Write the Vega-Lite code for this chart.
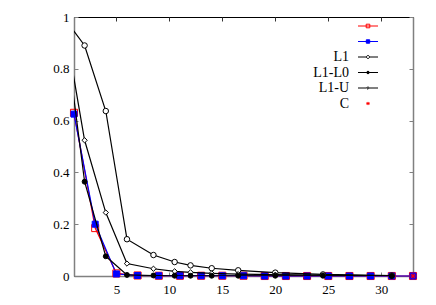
{
  "$schema": "https://vega.github.io/schema/vega-lite/v6.json",
  "width": 339,
  "height": 259,
  "autosize": "none",
  "padding": {"left": 74, "top": 17, "right": 23, "bottom": 29},
  "config": {
    "font": "Liberation Serif",
    "view": {"stroke": "black", "strokeWidth": 1},
    "axis": {"grid": false, "title": null, "labelFont": "Liberation Serif", "labelFontSize": 13, "labelColor": "black", "domainColor": "#808080", "domainWidth": 1.5, "tickColor": "#808080", "tickWidth": 1},
    "legend": {"labelFont": "Liberation Serif"}
  },
  "data": {"values": [
    {"s": "A", "x": 1, "y": 0.63}, {"s": "A", "x": 3, "y": 0.185}, {"s": "A", "x": 5, "y": 0.01}, {"s": "A", "x": 7, "y": 0.002},
    {"s": "A", "x": 9, "y": 0.001}, {"s": "A", "x": 11, "y": 0.001}, {"s": "A", "x": 13, "y": 0.001}, {"s": "A", "x": 15, "y": 0.001},
    {"s": "A", "x": 17, "y": 0.001}, {"s": "A", "x": 19, "y": 0}, {"s": "A", "x": 21, "y": 0}, {"s": "A", "x": 23, "y": 0},
    {"s": "A", "x": 25, "y": 0}, {"s": "A", "x": 27, "y": 0}, {"s": "A", "x": 29, "y": 0}, {"s": "A", "x": 31, "y": 0}, {"s": "A", "x": 33, "y": 0},
    {"s": "B", "x": 1, "y": 0.625}, {"s": "B", "x": 3, "y": 0.2}, {"s": "B", "x": 5, "y": 0.008}, {"s": "B", "x": 7, "y": 0.002},
    {"s": "B", "x": 9, "y": 0.001}, {"s": "B", "x": 11, "y": 0.001}, {"s": "B", "x": 13, "y": 0.001}, {"s": "B", "x": 15, "y": 0.001},
    {"s": "B", "x": 17, "y": 0.001}, {"s": "B", "x": 19, "y": 0}, {"s": "B", "x": 21, "y": 0}, {"s": "B", "x": 23, "y": 0},
    {"s": "B", "x": 25, "y": 0}, {"s": "B", "x": 27, "y": 0}, {"s": "B", "x": 29, "y": 0}, {"s": "B", "x": 31, "y": 0}, {"s": "B", "x": 33, "y": 0},
    {"s": "L1", "x": 0, "y": 1}, {"s": "L1", "x": 2, "y": 0.89}, {"s": "L1", "x": 4, "y": 0.637}, {"s": "L1", "x": 6, "y": 0.142},
    {"s": "L1", "x": 8.5, "y": 0.081}, {"s": "L1", "x": 10.5, "y": 0.054}, {"s": "L1", "x": 12, "y": 0.041}, {"s": "L1", "x": 14, "y": 0.03},
    {"s": "L1", "x": 16.5, "y": 0.022}, {"s": "L1", "x": 20, "y": 0.013}, {"s": "L1", "x": 24.5, "y": 0.006}, {"s": "L1", "x": 31, "y": 0.002},
    {"s": "L1-L0", "x": 0, "y": 1}, {"s": "L1-L0", "x": 2, "y": 0.364}, {"s": "L1-L0", "x": 4, "y": 0.076}, {"s": "L1-L0", "x": 6, "y": 0.004},
    {"s": "L1-L0", "x": 8.5, "y": 0.002}, {"s": "L1-L0", "x": 10.5, "y": 0.001}, {"s": "L1-L0", "x": 12, "y": 0.001}, {"s": "L1-L0", "x": 14, "y": 0.001},
    {"s": "L1-L0", "x": 16.5, "y": 0.001}, {"s": "L1-L0", "x": 20, "y": 0.001}, {"s": "L1-L0", "x": 24.5, "y": 0.001}, {"s": "L1-L0", "x": 31, "y": 0},
    {"s": "L1-U", "x": 0, "y": 1}, {"s": "L1-U", "x": 2, "y": 0.524}, {"s": "L1-U", "x": 4, "y": 0.245}, {"s": "L1-U", "x": 6, "y": 0.048},
    {"s": "L1-U", "x": 8.5, "y": 0.028}, {"s": "L1-U", "x": 10.5, "y": 0.018}, {"s": "L1-U", "x": 12, "y": 0.014}, {"s": "L1-U", "x": 14, "y": 0.01},
    {"s": "L1-U", "x": 16.5, "y": 0.007}, {"s": "L1-U", "x": 20, "y": 0.005}, {"s": "L1-U", "x": 24.5, "y": 0.003}, {"s": "L1-U", "x": 31, "y": 0.001},
    {"s": "C", "x": 33, "y": 0}
  ]},
  "resolve": {"axis": {"x": "independent", "y": "independent"}},
  "layer": [
    {
      "transform": [{"filter": "datum.s == 'A'"}],
      "mark": {"type": "line", "strokeWidth": 1.2, "stroke": "#ff0000"},
      "encoding": {
        "x": {"field": "x", "type": "quantitative", "scale": {"domain": [1, 33], "nice": false, "zero": false},
              "axis": {"orient": "bottom", "values": [5, 10, 15, 20, 25, 30], "tickSize": -4, "labelPadding": 11}},
        "y": {"field": "y", "type": "quantitative", "scale": {"domain": [0, 1], "nice": false},
              "axis": {"orient": "left", "values": [0, 0.2, 0.4, 0.6, 0.8, 1], "format": "~g", "tickSize": -4, "labelPadding": 9}}
      }
    },
    {
      "transform": [{"filter": "datum.s == 'B'"}],
      "mark": {"type": "line", "strokeWidth": 1.2, "stroke": "#0000ff"},
      "encoding": {
        "x": {"field": "x", "type": "quantitative", "axis": null},
        "y": {"field": "y", "type": "quantitative", "axis": null}
      }
    },
    {
      "transform": [{"filter": "datum.s == 'A'"}],
      "mark": {"type": "point", "shape": "square", "size": 50, "stroke": "#ff0000", "fill": null, "filled": false, "strokeWidth": 1, "opacity": 1},
      "encoding": {
        "x": {"field": "x", "type": "quantitative", "axis": null},
        "y": {"field": "y", "type": "quantitative", "axis": null}
      }
    },
    {
      "transform": [{"filter": "datum.s == 'B'"}],
      "mark": {"type": "point", "shape": "square", "size": 36, "fill": "#0000ff", "stroke": "#0000ff", "filled": true, "strokeWidth": 1, "opacity": 1},
      "encoding": {
        "x": {"field": "x", "type": "quantitative", "axis": null},
        "y": {"field": "y", "type": "quantitative", "axis": null}
      }
    },
    {
      "transform": [{"filter": "datum.s == 'L1' || datum.s == 'L1-L0' || datum.s == 'L1-U'"}],
      "mark": {"type": "line", "strokeWidth": 1.2, "clip": true, "stroke": "#000000"},
      "encoding": {
        "x": {"field": "x", "type": "quantitative",
              "axis": {"orient": "top", "values": [5, 10, 15, 20, 25, 30], "tickSize": -4, "labels": false, "domain": false, "tickColor": "#333333"}},
        "y": {"field": "y", "type": "quantitative",
              "axis": {"orient": "right", "values": [0, 0.2, 0.4, 0.6, 0.8, 1], "tickSize": -4, "labels": false}},
        "detail": {"field": "s", "type": "nominal"}
      }
    },
    {
      "transform": [{"filter": "datum.s == 'L1' && datum.x >= 1"}],
      "mark": {"type": "point", "shape": "circle", "size": 30, "fill": "#ffffff", "stroke": "#000000", "filled": true, "strokeWidth": 1, "opacity": 1},
      "encoding": {
        "x": {"field": "x", "type": "quantitative", "axis": null},
        "y": {"field": "y", "type": "quantitative", "axis": null}
      }
    },
    {
      "transform": [{"filter": "datum.s == 'L1-U' && datum.x >= 1"}],
      "mark": {"type": "point", "shape": "diamond", "size": 28, "fill": "#ffffff", "stroke": "#000000", "filled": true, "strokeWidth": 1, "opacity": 1},
      "encoding": {
        "x": {"field": "x", "type": "quantitative", "axis": null},
        "y": {"field": "y", "type": "quantitative", "axis": null}
      }
    },
    {
      "transform": [{"filter": "datum.s == 'L1-L0' && datum.x >= 1"}],
      "mark": {"type": "point", "shape": "circle", "size": 24, "fill": "#000000", "stroke": "#000000", "filled": true, "strokeWidth": 1, "opacity": 1},
      "encoding": {
        "x": {"field": "x", "type": "quantitative", "axis": null},
        "y": {"field": "y", "type": "quantitative", "axis": null}
      }
    },
    {
      "transform": [{"filter": "datum.s == 'C'"}],
      "mark": {"type": "point", "shape": "M-1,-1L1,1M-1,1L1,-1M-1.2,0H1.2M0,-1.2V1.2", "size": 20, "stroke": "#ff0000", "filled": false, "strokeWidth": 1, "opacity": 1},
      "encoding": {
        "x": {"field": "x", "type": "quantitative", "axis": null},
        "y": {"field": "y", "type": "quantitative", "axis": null}
      }
    },
    {
      "mark": {"type": "point", "size": 196, "opacity": 0, "filled": true, "strokeWidth": 1},
      "encoding": {
        "x": {"field": "x", "type": "quantitative", "axis": null},
        "y": {"field": "y", "type": "quantitative", "axis": null},
        "stroke": {"field": "s", "type": "nominal", "scale": {"domain": ["A", "B", "L1", "L1-L0", "L1-U", "C"], "range": ["#ff0000", "#0000ff", "#000000", "#000000", "#000000", "#ff0000"]}},
        "fill": {"field": "s", "type": "nominal", "scale": {"domain": ["A", "B", "L1", "L1-L0", "L1-U", "C"], "range": ["transparent", "#0000ff", "#ffffff", "#000000", "#ffffff", "transparent"]}},
        "shape": {"field": "s", "type": "nominal",
          "scale": {"domain": ["A", "B", "L1", "L1-L0", "L1-U", "C"], "range": [
            "M-2,0H2M-0.36,-0.36H0.36V0.36H-0.36Z",
            "M-2,0H2M-0.34,-0.34H0.34V0.34H-0.34Z",
            "M-2,0H-0.3M0.3,0H2M0.3,0A0.3,0.3 0 1,1 -0.3,0A0.3,0.3 0 1,1 0.3,0Z",
            "M-2,0H2M0.26,0A0.26,0.26 0 1,1 -0.26,0A0.26,0.26 0 1,1 0.26,0Z",
            "M-2,0H-0.26M0.26,0H2M0,-0.26L0.26,0L0,0.26L-0.26,0Z",
            "M-0.25,-0.25L0.25,0.25M-0.25,0.25L0.25,-0.25M-0.32,0H0.32M0,-0.32V0.32"
          ]},
          "legend": {"orient": "none", "legendX": 287, "legendY": 2, "title": null,
            "labelExpr": "datum.value == 'A' || datum.value == 'B' ? '' : datum.value",
            "labelAlign": "right", "labelOffset": -26, "rowPadding": 1.5, "padding": 0,
            "symbolStrokeWidth": 1, "symbolOpacity": 1, "labelFont": "Liberation Serif", "labelFontSize": 14, "labelColor": "black"}
        }
      }
    }
  ]
}
